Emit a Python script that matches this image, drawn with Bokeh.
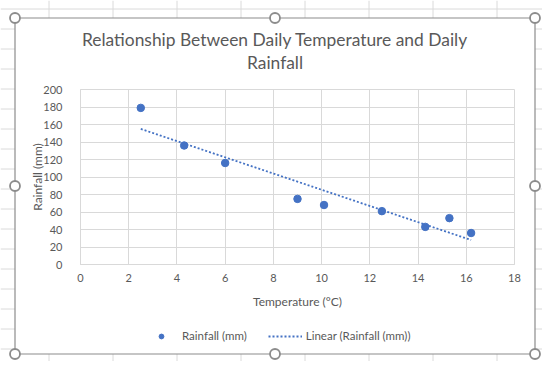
import numpy as np
from bokeh.plotting import figure
from bokeh.layouts import column
from bokeh.models import Range1d, FixedTicker, Label, Legend, LegendItem
from bokeh.embed import file_html
from bokeh.resources import INLINE

# ---------------- data ----------------
temperature = [2.5, 4.3, 6.0, 9.0, 10.1, 12.5, 14.3, 15.3, 16.2]
rainfall = [179, 136, 116, 75, 68, 61, 43, 53, 36]
x_ticks = [0, 2, 4, 6, 8, 10, 12, 14, 16, 18]
y_ticks = [0, 20, 40, 60, 80, 100, 120, 140, 160, 180, 200]
title_lines = ["Relationship Between Daily Temperature and Daily", "Rainfall"]
x_title = "Temperature (°C)"
y_title = "Rainfall (mm)"
series_name = "Rainfall (mm)"
trend_name = "Linear (Rainfall (mm))"

# linear trendline (least squares, as the spreadsheet does)
slope, intercept = np.polyfit(temperature, rainfall, 1)
trend_x = [min(temperature), max(temperature)]
trend_y = [slope * t + intercept for t in trend_x]

BLUE = "#4472C4"
TXT = "#595959"
GRID = "#d9d9d9"
SHEET = "#dadada"
FONT = "Lato"
W, H = 542, 361

MARKER = dict(size=7.5, marker="circle", fill_color=BLUE, line_color=BLUE)
TREND = dict(line_color=BLUE, line_width=1.8, line_dash="2 2")

# ================= backdrop: worksheet, chart frame, handles, title, legend =================
bg = figure(width=W, height=H, x_range=Range1d(0, W), y_range=Range1d(H, 0),
            min_border=0, x_axis_location=None, y_axis_location=None,
            toolbar_location=None, output_backend="svg")
bg.frame_align = False
bg.xgrid.visible = False
bg.ygrid.visible = False
bg.outline_line_color = None
bg.title.visible = False

CH_L, CH_R, CH_T, CH_B = 14.5, 534.5, 17.5, 353.5
col_lines = [48.5 + 64 * k for k in range(8)]
row_lines = [8.5 + 20 * k for k in range(19)]
bg.segment(x0=col_lines, y0=[0] * len(col_lines), x1=col_lines, y1=[H] * len(col_lines),
           line_color=SHEET, line_width=1)
bg.segment(x0=[0] * len(row_lines), y0=row_lines, x1=[W] * len(row_lines), y1=row_lines,
           line_color=SHEET, line_width=1)
bg.quad(left=[CH_L], right=[CH_R], top=[CH_T], bottom=[CH_B],
        fill_color="white", line_color="#8c8c8c", line_width=1.2)
hx, hy = [], []
for i, x in enumerate([CH_L, (CH_L + CH_R) / 2, CH_R]):
    for j, y in enumerate([CH_T, (CH_T + CH_B) / 2, CH_B]):
        if not (i == 1 and j == 1):
            hx.append(x)
            hy.append(y)
bg.scatter(hx, hy, size=10, marker="circle", fill_color="white",
           line_color="#8c8c8c", line_width=1.8)

for line, yc in zip(title_lines, [39, 61.5]):
    bg.add_layout(Label(x=274.5, y=yc, text=line, text_align="center",
                        text_baseline="middle", text_font=FONT,
                        text_font_size="17.4px", text_color=TXT))

# legend samples (styled like the series; drawn off-canvas, used only as keys)
key_pts = bg.scatter([-50], [-50], **MARKER)
key_trend = bg.line([-60, -40], [-50, -50], **TREND)
legend = Legend(items=[LegendItem(label=series_name, renderers=[key_pts]),
                       LegendItem(label=trend_name, renderers=[key_trend])],
                orientation="horizontal", location=(144, 19),
                glyph_width=34, glyph_height=12, label_standoff=4, spacing=21,
                padding=0, margin=0, border_line_alpha=0, background_fill_alpha=0,
                label_text_font=FONT, label_text_font_size="11.5px",
                label_text_color=TXT, label_height=12)
bg.add_layout(legend)

# ================= chart =================
p = figure(frame_width=434, frame_height=175,
           min_border_left=80, min_border_right=W - 514,
           min_border_top=89, min_border_bottom=H - 264,
           x_range=Range1d(0, 18), y_range=Range1d(0, 200),
           output_backend="svg", toolbar_location=None)
p.frame_align = False
p.border_fill_alpha = 0
p.background_fill_alpha = 0
p.outline_line_color = GRID
p.margin = (-H, 0, 0, 0)

for ax in (p.xaxis[0], p.yaxis[0]):
    ax.axis_line_color = GRID
    ax.major_tick_line_color = None
    ax.minor_tick_line_color = None
    ax.major_label_text_color = TXT
    ax.major_label_text_font = FONT
    ax.major_label_text_font_size = "11px"
    ax.axis_label_text_color = TXT
    ax.axis_label_text_font = FONT
    ax.axis_label_text_font_size = "12px"
    ax.axis_label_text_font_style = "normal"

p.xaxis.ticker = FixedTicker(ticks=x_ticks)
p.yaxis.ticker = FixedTicker(ticks=y_ticks)
p.xaxis.axis_label = x_title
p.yaxis.axis_label = y_title
p.xaxis.major_label_standoff = 3
p.yaxis.major_label_standoff = 12
p.xaxis.axis_label_standoff = 9
p.yaxis.axis_label_standoff = -5

p.xgrid.ticker = FixedTicker(ticks=x_ticks)
p.ygrid.ticker = FixedTicker(ticks=y_ticks)
p.xgrid.grid_line_color = GRID
p.ygrid.grid_line_color = GRID

trend = p.line(trend_x, trend_y, **TREND)
pts = p.scatter(temperature, rainfall, **MARKER)

layout = column(bg, p, spacing=0)
open("out.html", "w").write(file_html(layout, INLINE))
